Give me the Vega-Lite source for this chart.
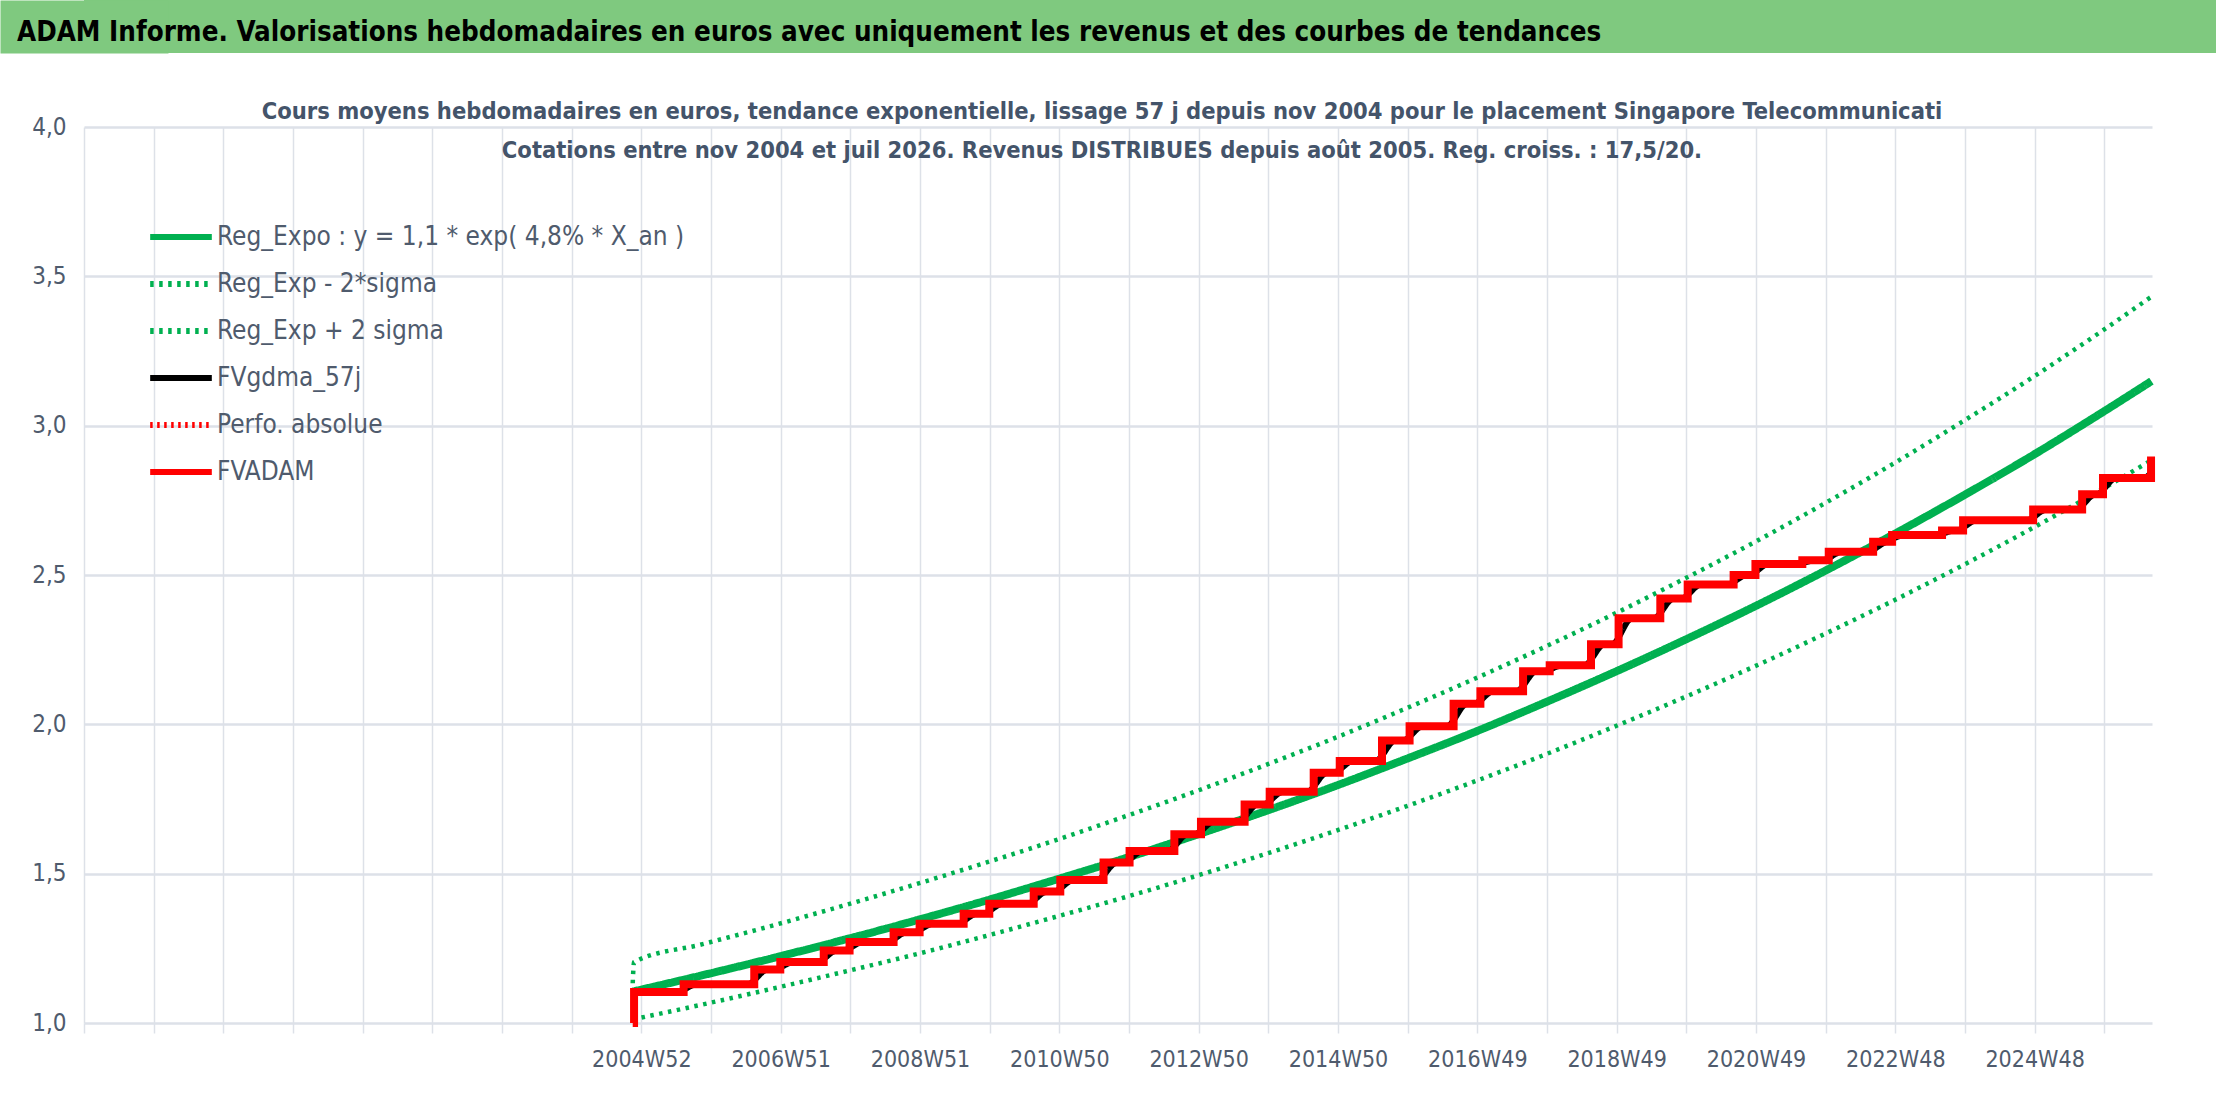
{
  "$schema": "https://vega.github.io/schema/vega-lite/v6.json",
  "background": "white",
  "padding": 0,
  "spacing": 43,
  "vconcat": [
    {
      "width": 2132,
      "height": 53,
      "view": {"fill": "#7fc97f", "stroke": null},
      "title": {
        "text": "ADAM Informe. Valorisations hebdomadaires en euros avec uniquement les revenus et des courbes de tendances",
        "anchor": "start",
        "frame": "bounds",
        "dx": 17,
        "dy": 46,
        "offset": 0,
        "baseline": "top",
        "fontSize": 27.5,
        "fontWeight": "bold",
        "color": "#000000"
      },
      "data": {"values": [{}]},
      "mark": {"type": "point", "opacity": 0},
      "encoding": {
        "y": {
          "datum": 0,
          "type": "quantitative",
          "scale": {"domain": [0, 1]},
          "axis": {
            "title": null,
            "labels": false,
            "ticks": false,
            "grid": false,
            "domain": true,
            "domainColor": "#7fc97f",
            "domainWidth": 168,
            "minExtent": 84
          }
        }
      }
    },
    {
      "width": 2068,
      "height": 896,
      "title": {
        "text": [
          "Cours moyens hebdomadaires en euros, tendance exponentielle, lissage 57 j depuis nov 2004 pour le placement Singapore Telecommunicati",
          "Cotations entre nov 2004 et juil 2026. Revenus DISTRIBUES depuis août 2005. Reg. croiss. : 17,5/20."
        ],
        "anchor": "middle",
        "frame": "group",
        "dx": -16,
        "dy": 71,
        "offset": 0,
        "baseline": "bottom",
        "fontSize": 23.5,
        "lineHeight": 39,
        "fontWeight": "bold",
        "color": "#44546a"
      },
      "encoding": {
        "x": {
          "field": "date",
          "type": "temporal",
          "scale": {
            "type": "utc",
            "domain": [
              {"year": 1996, "month": 12, "date": 30, "utc": true},
              {"year": 2026, "month": 7, "date": 31, "utc": true}
            ]
          },
          "axis": {
            "title": null,
            "values": [
              {"year": 1996, "month": 12, "date": 30, "utc": true},
              {"year": 1997, "month": 12, "date": 29, "utc": true},
              {"year": 1998, "month": 12, "date": 28, "utc": true},
              {"year": 1999, "month": 12, "date": 27, "utc": true},
              {"year": 2000, "month": 12, "date": 25, "utc": true},
              {"year": 2001, "month": 12, "date": 24, "utc": true},
              {"year": 2002, "month": 12, "date": 23, "utc": true},
              {"year": 2003, "month": 12, "date": 22, "utc": true},
              {"year": 2004, "month": 12, "date": 20, "utc": true},
              {"year": 2005, "month": 12, "date": 19, "utc": true},
              {"year": 2006, "month": 12, "date": 18, "utc": true},
              {"year": 2007, "month": 12, "date": 17, "utc": true},
              {"year": 2008, "month": 12, "date": 15, "utc": true},
              {"year": 2009, "month": 12, "date": 14, "utc": true},
              {"year": 2010, "month": 12, "date": 13, "utc": true},
              {"year": 2011, "month": 12, "date": 12, "utc": true},
              {"year": 2012, "month": 12, "date": 10, "utc": true},
              {"year": 2013, "month": 12, "date": 9, "utc": true},
              {"year": 2014, "month": 12, "date": 8, "utc": true},
              {"year": 2015, "month": 12, "date": 7, "utc": true},
              {"year": 2016, "month": 12, "date": 5, "utc": true},
              {"year": 2017, "month": 12, "date": 4, "utc": true},
              {"year": 2018, "month": 12, "date": 3, "utc": true},
              {"year": 2019, "month": 12, "date": 2, "utc": true},
              {"year": 2020, "month": 11, "date": 30, "utc": true},
              {"year": 2021, "month": 11, "date": 29, "utc": true},
              {"year": 2022, "month": 11, "date": 28, "utc": true},
              {"year": 2023, "month": 11, "date": 27, "utc": true},
              {"year": 2024, "month": 11, "date": 25, "utc": true},
              {"year": 2025, "month": 11, "date": 24, "utc": true}
            ],
            "format": "%GW%V",
            "labelExpr": "utcyear(datum.value) >= 2004 && utcyear(datum.value) % 2 == 0 ? datum.label : ''",
            "labelOverlap": false,
            "labelFlush": false,
            "labelAngle": 0,
            "domain": false,
            "ticks": true,
            "tickSize": 10,
            "tickWidth": 1.5,
            "tickColor": "#dde1e8",
            "grid": true,
            "gridColor": "#dde1e8",
            "gridWidth": 1.5,
            "labelFontSize": 23,
            "labelColor": "#4f5b6d",
            "labelPadding": 15
          }
        },
        "y": {
          "field": "value",
          "type": "quantitative",
          "scale": {"domain": [1, 4], "nice": false, "zero": false},
          "axis": {
            "title": null,
            "values": [1, 1.5, 2, 2.5, 3, 3.5, 4],
            "labelExpr": "replace(format(datum.value, '.1f'), '.', ',')",
            "domain": false,
            "ticks": false,
            "grid": true,
            "gridColor": "#dde1e8",
            "gridWidth": 2.5,
            "labelFontSize": 24,
            "labelColor": "#4f5b6d",
            "labelPadding": 18,
            "minExtent": 84
          }
        }
      },
      "layer": [
        {
          "data": {"values": [
            {"date": "2004-11-05", "value": 1.012},
            {"date": "2005-11-05", "value": 1.062},
            {"date": "2006-11-05", "value": 1.115},
            {"date": "2007-11-05", "value": 1.170},
            {"date": "2008-11-05", "value": 1.227},
            {"date": "2009-11-05", "value": 1.288},
            {"date": "2010-11-05", "value": 1.352},
            {"date": "2011-11-05", "value": 1.418},
            {"date": "2012-11-05", "value": 1.488},
            {"date": "2013-11-05", "value": 1.562},
            {"date": "2014-11-05", "value": 1.639},
            {"date": "2015-11-05", "value": 1.720},
            {"date": "2016-11-05", "value": 1.805},
            {"date": "2017-11-05", "value": 1.894},
            {"date": "2018-11-05", "value": 1.988},
            {"date": "2019-11-05", "value": 2.086},
            {"date": "2020-11-05", "value": 2.189},
            {"date": "2021-11-05", "value": 2.297},
            {"date": "2022-11-05", "value": 2.410},
            {"date": "2023-11-05", "value": 2.529},
            {"date": "2024-11-05", "value": 2.654},
            {"date": "2025-11-05", "value": 2.785},
            {"date": "2026-07-28", "value": 2.884}
          ]},
          "mark": {"type": "line", "interpolate": "monotone", "strokeWidth": 4.5},
          "encoding": {
            "color": {
              "datum": "Reg_Exp - 2*sigma",
              "scale": {
                "domain": ["Reg_Expo : y = 1,1 * exp( 4,8% *  X_an )", "Reg_Exp - 2*sigma", "Reg_Exp + 2 sigma", "FVgdma_57j", "Perfo. absolue", "FVADAM"],
                "range": ["#00b050", "#00b050", "#00b050", "#000000", "#ff0000", "#ff0000"]
              },
              "legend": {"title": null, "orient": "none", "legendX": 63, "legendY": 203}
            },
            "strokeDash": {
              "datum": "Reg_Exp - 2*sigma",
              "scale": {
                "domain": ["Reg_Expo : y = 1,1 * exp( 4,8% *  X_an )", "Reg_Exp - 2*sigma", "Reg_Exp + 2 sigma", "FVgdma_57j", "Perfo. absolue", "FVADAM"],
                "range": [[1, 0], [3.5, 5.5], [3.5, 5.5], [1, 0], [2.5, 4.5], [1, 0]]
              },
              "legend": {"title": null, "orient": "none", "legendX": 63, "legendY": 203}
            }
          }
        },
        {
          "data": {"values": [
            {"date": "2004-11-05", "value": 1.133},
            {"date": "2004-11-12", "value": 1.204},
            {"date": "2005-11-05", "value": 1.264},
            {"date": "2006-11-05", "value": 1.326},
            {"date": "2007-11-05", "value": 1.392},
            {"date": "2008-11-05", "value": 1.461},
            {"date": "2009-11-05", "value": 1.533},
            {"date": "2010-11-05", "value": 1.608},
            {"date": "2011-11-05", "value": 1.688},
            {"date": "2012-11-05", "value": 1.771},
            {"date": "2013-11-05", "value": 1.859},
            {"date": "2014-11-05", "value": 1.950},
            {"date": "2015-11-05", "value": 2.047},
            {"date": "2016-11-05", "value": 2.148},
            {"date": "2017-11-05", "value": 2.254},
            {"date": "2018-11-05", "value": 2.365},
            {"date": "2019-11-05", "value": 2.482},
            {"date": "2020-11-05", "value": 2.604},
            {"date": "2021-11-05", "value": 2.733},
            {"date": "2022-11-05", "value": 2.868},
            {"date": "2023-11-05", "value": 3.010},
            {"date": "2024-11-05", "value": 3.158},
            {"date": "2025-11-05", "value": 3.314},
            {"date": "2026-07-28", "value": 3.432}
          ]},
          "mark": {"type": "line", "interpolate": "monotone", "strokeWidth": 4.5},
          "encoding": {
            "color": {"datum": "Reg_Exp + 2 sigma", "legend": null},
            "strokeDash": {"datum": "Reg_Exp + 2 sigma", "legend": null}
          }
        },
        {
          "data": {"values": [
            {"date": "2004-11-05", "value": 1.105},
            {"date": "2005-11-05", "value": 1.160},
            {"date": "2006-11-05", "value": 1.217},
            {"date": "2007-11-05", "value": 1.277},
            {"date": "2008-11-05", "value": 1.340},
            {"date": "2009-11-05", "value": 1.406},
            {"date": "2010-11-05", "value": 1.476},
            {"date": "2011-11-05", "value": 1.548},
            {"date": "2012-11-05", "value": 1.625},
            {"date": "2013-11-05", "value": 1.705},
            {"date": "2014-11-05", "value": 1.789},
            {"date": "2015-11-05", "value": 1.878},
            {"date": "2016-11-05", "value": 1.970},
            {"date": "2017-11-05", "value": 2.068},
            {"date": "2018-11-05", "value": 2.170},
            {"date": "2019-11-05", "value": 2.277},
            {"date": "2020-11-05", "value": 2.389},
            {"date": "2021-11-05", "value": 2.507},
            {"date": "2022-11-05", "value": 2.631},
            {"date": "2023-11-05", "value": 2.761},
            {"date": "2024-11-05", "value": 2.897},
            {"date": "2025-11-05", "value": 3.041},
            {"date": "2026-07-28", "value": 3.149}
          ]},
          "mark": {"type": "line", "interpolate": "monotone", "strokeWidth": 8},
          "encoding": {
            "color": {"datum": "Reg_Expo : y = 1,1 * exp( 4,8% *  X_an )", "legend": null},
            "strokeDash": {"datum": "Reg_Expo : y = 1,1 * exp( 4,8% *  X_an )", "legend": null}
          }
        },
        {
          "data": {"values": [
            {"date": "2004-11-12", "value": 1.104},
            {"date": "2005-06-24", "value": 1.104},
            {"date": "2005-10-07", "value": 1.130},
            {"date": "2006-06-28", "value": 1.130},
            {"date": "2006-10-11", "value": 1.179},
            {"date": "2006-11-11", "value": 1.179},
            {"date": "2007-02-24", "value": 1.204},
            {"date": "2007-06-26", "value": 1.204},
            {"date": "2007-10-09", "value": 1.243},
            {"date": "2007-11-08", "value": 1.243},
            {"date": "2008-02-21", "value": 1.271},
            {"date": "2008-06-25", "value": 1.271},
            {"date": "2008-10-08", "value": 1.304},
            {"date": "2008-11-08", "value": 1.304},
            {"date": "2009-02-21", "value": 1.332},
            {"date": "2009-06-26", "value": 1.332},
            {"date": "2009-10-09", "value": 1.366},
            {"date": "2009-11-07", "value": 1.366},
            {"date": "2010-02-20", "value": 1.399},
            {"date": "2010-06-27", "value": 1.399},
            {"date": "2010-10-10", "value": 1.440},
            {"date": "2010-11-13", "value": 1.440},
            {"date": "2011-02-26", "value": 1.479},
            {"date": "2011-06-27", "value": 1.479},
            {"date": "2011-10-10", "value": 1.537},
            {"date": "2011-11-10", "value": 1.537},
            {"date": "2012-02-23", "value": 1.576},
            {"date": "2012-07-01", "value": 1.576},
            {"date": "2012-10-14", "value": 1.632},
            {"date": "2012-11-17", "value": 1.632},
            {"date": "2013-03-02", "value": 1.674},
            {"date": "2013-07-03", "value": 1.674},
            {"date": "2013-10-16", "value": 1.732},
            {"date": "2013-11-11", "value": 1.732},
            {"date": "2014-02-24", "value": 1.774},
            {"date": "2014-06-29", "value": 1.774},
            {"date": "2014-10-12", "value": 1.838},
            {"date": "2014-11-12", "value": 1.838},
            {"date": "2015-02-25", "value": 1.877},
            {"date": "2015-06-21", "value": 1.877},
            {"date": "2015-10-04", "value": 1.946},
            {"date": "2015-11-12", "value": 1.946},
            {"date": "2016-02-25", "value": 1.994},
            {"date": "2016-06-29", "value": 1.994},
            {"date": "2016-10-12", "value": 2.069},
            {"date": "2016-11-16", "value": 2.069},
            {"date": "2017-03-01", "value": 2.111},
            {"date": "2017-06-27", "value": 2.111},
            {"date": "2017-10-10", "value": 2.178},
            {"date": "2017-11-13", "value": 2.178},
            {"date": "2018-02-26", "value": 2.198},
            {"date": "2018-06-17", "value": 2.198},
            {"date": "2018-09-30", "value": 2.268},
            {"date": "2018-11-08", "value": 2.268},
            {"date": "2019-02-21", "value": 2.355},
            {"date": "2019-06-14", "value": 2.355},
            {"date": "2019-09-27", "value": 2.421},
            {"date": "2019-11-04", "value": 2.421},
            {"date": "2020-02-17", "value": 2.468},
            {"date": "2020-07-01", "value": 2.468},
            {"date": "2020-10-14", "value": 2.500},
            {"date": "2020-10-23", "value": 2.500},
            {"date": "2021-02-05", "value": 2.537},
            {"date": "2021-06-25", "value": 2.537},
            {"date": "2021-10-08", "value": 2.549},
            {"date": "2021-11-10", "value": 2.549},
            {"date": "2022-02-23", "value": 2.578},
            {"date": "2022-06-30", "value": 2.578},
            {"date": "2022-10-10", "value": 2.611},
            {"date": "2023-01-20", "value": 2.634},
            {"date": "2023-06-25", "value": 2.634},
            {"date": "2023-10-08", "value": 2.649},
            {"date": "2023-10-13", "value": 2.649},
            {"date": "2024-01-26", "value": 2.683},
            {"date": "2024-10-13", "value": 2.683},
            {"date": "2025-01-26", "value": 2.719},
            {"date": "2025-06-26", "value": 2.719},
            {"date": "2025-10-09", "value": 2.770},
            {"date": "2025-10-13", "value": 2.770},
            {"date": "2026-01-26", "value": 2.825},
            {"date": "2026-06-21", "value": 2.825},
            {"date": "2026-07-28", "value": 2.845}
          ]},
          "mark": {"type": "line", "interpolate": "monotone", "strokeWidth": 6},
          "encoding": {
            "color": {"datum": "FVgdma_57j", "legend": null},
            "strokeDash": {"datum": "FVgdma_57j", "legend": null}
          }
        },
        {
          "data": {"values": [
            {"date": "2004-11-05", "value": 1.000},
            {"date": "2004-11-12", "value": 1.104},
            {"date": "2005-07-29", "value": 1.130},
            {"date": "2006-08-02", "value": 1.179},
            {"date": "2006-12-16", "value": 1.204},
            {"date": "2007-07-31", "value": 1.243},
            {"date": "2007-12-13", "value": 1.271},
            {"date": "2008-07-30", "value": 1.304},
            {"date": "2008-12-13", "value": 1.332},
            {"date": "2009-07-31", "value": 1.366},
            {"date": "2009-12-12", "value": 1.399},
            {"date": "2010-08-01", "value": 1.440},
            {"date": "2010-12-18", "value": 1.479},
            {"date": "2011-08-01", "value": 1.537},
            {"date": "2011-12-15", "value": 1.576},
            {"date": "2012-08-05", "value": 1.632},
            {"date": "2012-12-22", "value": 1.674},
            {"date": "2013-08-07", "value": 1.732},
            {"date": "2013-12-16", "value": 1.774},
            {"date": "2014-08-03", "value": 1.838},
            {"date": "2014-12-17", "value": 1.877},
            {"date": "2015-07-26", "value": 1.946},
            {"date": "2015-12-17", "value": 1.994},
            {"date": "2016-08-03", "value": 2.069},
            {"date": "2016-12-21", "value": 2.111},
            {"date": "2017-08-01", "value": 2.178},
            {"date": "2017-12-18", "value": 2.198},
            {"date": "2018-07-22", "value": 2.268},
            {"date": "2018-12-13", "value": 2.355},
            {"date": "2019-07-19", "value": 2.421},
            {"date": "2019-12-09", "value": 2.468},
            {"date": "2020-08-05", "value": 2.500},
            {"date": "2020-11-27", "value": 2.537},
            {"date": "2021-07-30", "value": 2.549},
            {"date": "2021-12-15", "value": 2.578},
            {"date": "2022-08-04", "value": 2.611},
            {"date": "2022-11-11", "value": 2.634},
            {"date": "2023-07-30", "value": 2.649},
            {"date": "2023-11-17", "value": 2.683},
            {"date": "2024-11-17", "value": 2.719},
            {"date": "2025-07-31", "value": 2.770},
            {"date": "2025-11-17", "value": 2.825},
            {"date": "2026-07-26", "value": 2.897}
          ]},
          "mark": {"type": "line", "interpolate": "step-after", "strokeWidth": 8},
          "encoding": {
            "color": {"datum": "FVADAM", "legend": null},
            "strokeDash": {"datum": "FVADAM", "legend": null}
          }
        }
      ]
    }
  ],
  "config": {
    "font": "DejaVu Sans Condensed",
    "view": {"stroke": null},
    "legend": {
      "symbolType": "stroke",
      "symbolSize": 3800,
      "symbolStrokeWidth": 6,
      "labelFontSize": 26,
      "labelColor": "#4f5b6d",
      "labelOffset": 2,
      "labelLimit": 900,
      "rowPadding": 0
    }
  }
}
